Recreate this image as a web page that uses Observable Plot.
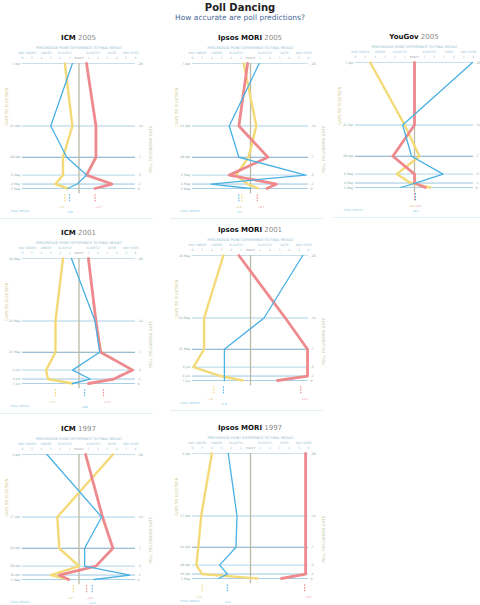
<!DOCTYPE html>
<html><head><meta charset="utf-8">
<script src="https://cdn.jsdelivr.net/npm/d3@7"></script>
<script src="https://cdn.jsdelivr.net/npm/@observablehq/plot@0.6"></script>
<style>
body{margin:0;background:#fff;font-family:"DejaVu Sans",sans-serif;}
#root{position:relative;width:480px;height:605px;overflow:hidden;background:#fff;}
.h1{position:absolute;left:0;width:480px;text-align:center;top:2px;font-size:10px;font-weight:bold;color:#222;line-height:11px;}
.h2{position:absolute;left:0;width:480px;text-align:center;top:13px;font-size:7.5px;color:#4a6a9a;line-height:9px;}
.pt{position:absolute;width:160px;text-align:center;font-size:7px;line-height:8px;color:#8a8a8a;}
.pt b{color:#111;}
.sep{position:absolute;height:1px;background:#e2f0f8;}
</style></head><body><div id="root">
<div class="h1">Poll Dancing</div>
<div class="h2">How accurate are poll predictions?</div>
</div>
<script>
// Days before election for each poll row
const days = [28, 14, 7, 3, 1, 0];
const rightLabels = ["-28", "-14", "-7", "-3", "-1", "0"];
const dateLabels2005 = ["7 Apr", "21 Apr", "28 Apr", "2 May", "4 May", "5 May"];
const dateLabels2001 = ["10 May", "24 May", "31 May", "4 Jun", "6 Jun", "7 Jun"];
const dateLabels1997 = ["3 Apr", "17 Apr", "24 Apr", "28 Apr", "30 Apr", "1 May"];

const pollsters = ["ICM", "Ipsos MORI", "YouGov", "ICM", "Ipsos MORI", "ICM", "Ipsos MORI"];
const years = ["2005", "2005", "2005", "2001", "2001", "1997", "1997"];

// Error vs final result (percentage points), one array per panel, rows follow `days`
const conErr = [
  [-0.7, -3.0, -1.3, 0.8, -0.2, -1.2],
  [0.9, -2.2, -1.2, 5.7, -4.1, 0.0],
  [5.9, -1.2, -0.3, 2.9, 0.1, -1.4],
  [-0.8, 1.7, 2.2, -0.7, 1.2, -0.7],
  [5.4, 1.4, -2.7, -2.7, -2.7, -2.7],
  [-3.4, 2.4, 0.6, 0.6, 5.4, 1.6],
  [-2.3, -1.4, -1.5, -3.2, -2.4, -3.3]
];
const labErr = [
  [0.8, 1.8, 1.8, 0.8, 3.5, 1.7],
  [-0.3, -1.2, 1.8, -2.2, 2.7, 1.7],
  [0.0, 0.0, -2.2, 0.0, 0.0, 1.1],
  [1.0, 1.8, 2.3, 5.7, 3.7, 1.0],
  [-1.2, 3.6, 5.9, 5.9, 5.9, 2.8],
  [0.7, 2.5, 3.6, 1.8, -2.1, -1.1],
  [5.7, 5.7, 5.7, 5.7, 5.7, 3.2]
];
const ldErr = [
  [-1.5, -0.7, -1.7, -1.7, -2.5, -1.2],
  [-0.7, 0.6, -0.2, -1.5, -0.3, 0.8],
  [-4.5, -1.0, 0.5, -1.8, -0.4, 1.6],
  [-1.7, -2.5, -2.5, -3.5, -3.3, -0.7],
  [-2.8, -4.8, -4.8, -5.9, -3.1, -0.8],
  [3.6, -2.3, -2.1, 0.0, -3.0, -1.1],
  [-4.0, -5.1, -5.4, -5.6, -5.0, 0.7]
];
// Average error markers shown below each panel
const conFinal = [-1.0, -1.2, 0.1, 0.6, -2.8, 1.4, -2.4];
const labFinal = [1.7, 0.7, 0.0, 2.6, 5.2, 0.8, 5.6];
const ldFinal = [-1.5, -0.9, 0.1, -2.5, -3.8, -0.6, -5.0];

const tickValues = [-6, -5, -4, -3, -2, -1, 1, 2, 3, 4, 5, 6];
const bandLabels = ["WAY UNDER", "UNDER", "SLIGHTLY", "SLIGHTLY", "OVER", "WAY OVER"];
const bandCenters = [-5.5, -3.5, -1.5, 1.5, 3.5, 5.5];

// layout
const xStart = [22, 192, 355, 22, 192, 22, 192];
const xEnd = [135, 308, 473, 135, 308, 135, 308];
const rowTop = [63, 63, 62, 258, 255, 454, 453];
const gridColors = ["#c5dbe7", "#9fcbe3", "#6e9dbd", "#a8d1e7", "#8ec1de", "#9fcbe3"];
const RED = "#ee8a8d", BLUE = "#49b1e4", YEL = "#f4da77";

const root = document.getElementById("root");
const fmt = d3.format("+.1f");

pollsters.forEach((name, i) => {
  const ml = 24, mr = 26, mt = 32, mb = 36, ph = 125;
  const w = xEnd[i] - xStart[i] + ml + mr;
  const h = mt + ph + mb;
  const dl = years[i] === "2005" ? dateLabels2005 : years[i] === "2001" ? dateLabels2001 : dateLabels1997;
  const rows = days.map((d, k) => ({day: d, con: conErr[i][k], lab: labErr[i][k], ld: ldErr[i][k], left: dl[k], right: rightLabels[k], k}));
  const small = {fontSize: 3, fill: "#9bbfd4"};
  const lastCol = xEnd[i] > 400;
  const svg = Plot.plot({
    width: w, height: h,
    marginLeft: ml, marginRight: mr, marginTop: mt, marginBottom: mb,
    x: {domain: [-6, 6], axis: null},
    y: {domain: [0, 28], axis: null},
    style: {fontFamily: "DejaVu Sans, sans-serif", background: "transparent", overflow: "visible"},
    marks: [
      Plot.ruleY(rows, {y: "day", stroke: d => gridColors[d.k], strokeWidth: 0.9}),
      Plot.ruleX([0], {y1: 28, y2: -1.2, stroke: "#bdb8a6", strokeWidth: 1.3}),
      Plot.text(tickValues, {x: d => d, frameAnchor: "top", dy: -6.3, text: d => String(Math.abs(d)), ...small}),
      Plot.text(["EXACT"], {x: 0, frameAnchor: "top", dy: -6.3, text: d => d, fontSize: 2.8, fill: "#a0a0a0"}),
      Plot.text(bandLabels, {x: (d, j) => bandCenters[j], frameAnchor: "top", dy: -11.3, text: d => d, ...small}),
      Plot.text(["PERCENTAGE POINT DIFFERENCE TO FINAL RESULT"], {frameAnchor: "top", dy: -17.3, text: d => d, fontSize: 3.4, fill: "#8fb8cf"}),
      Plot.text(rows, {y: "day", frameAnchor: "left", dx: -2, textAnchor: "end", text: "left", fontSize: 3.2, fill: "#8aa"}),
      Plot.text(rows, {y: "day", frameAnchor: "right", dx: 2, textAnchor: "start", text: "right", fontSize: 3.2, fill: "#8aa"}),
      Plot.text(["DAYS TO ELECTION"], {frameAnchor: "left", dx: -16, rotate: -90, text: d => d, fontSize: 4, fill: "#cfc98a"}),
      lastCol ? null : Plot.text(["POLL FIELDWORK DATE"], {frameAnchor: "right", dx: 15, rotate: -90, text: d => d, fontSize: 4, fill: "#b5c8a0"}),
      Plot.line(rows, {x: "ld", y: "day", stroke: YEL, strokeWidth: 2.4, strokeLinejoin: "round"}),
      Plot.line(rows, {x: "lab", y: "day", stroke: RED, strokeWidth: 2.8, strokeLinejoin: "round"}),
      Plot.line(rows, {x: "con", y: "day", stroke: BLUE, strokeWidth: 1.3, strokeLinejoin: "round"}),
      Plot.ruleX([ldFinal[i]], {x: d => d, y1: -1.4, y2: -3.2, stroke: YEL, strokeWidth: 1.2, strokeDasharray: "1.6 1.1"}),
      Plot.ruleX([labFinal[i]], {x: d => d, y1: -1.4, y2: -3.2, stroke: RED, strokeWidth: 1.2, strokeDasharray: "1.6 1.1"}),
      Plot.ruleX([conFinal[i]], {x: d => d, y1: -1.4, y2: -3.2, stroke: BLUE, strokeWidth: 1.0, strokeDasharray: "1.6 1.1"}),
      Plot.text([ldFinal[i]], {x: d => d, y: -4.2, dx: -0.5, textAnchor: "end", text: d => fmt(d), fontSize: 2.6, fill: "#d8c060"}),
      Plot.text([labFinal[i]], {x: d => d, y: -4.2, dx: 0.5, textAnchor: "start", text: d => fmt(d), fontSize: 2.6, fill: RED}),
      Plot.text([conFinal[i]], {x: d => d, y: -5.2, text: d => fmt(d), fontSize: 2.6, fill: BLUE}),
      Plot.text(["FINAL RESULT"], {frameAnchor: "bottom-left", dx: -12, dy: 23.6, textAnchor: "start", text: d => d, fontSize: 2.8, fill: "#8ccbe8"})
    ]
  });
  svg.style.position = "absolute";
  svg.style.left = (xStart[i] - ml) + "px";
  svg.style.top = (rowTop[i] - mt) + "px";
  root.appendChild(svg);

  const cx = (xStart[i] + xEnd[i]) / 2;
  const t = document.createElement("div");
  t.className = "pt";
  t.style.left = (cx - 80) + "px";
  t.style.top = (rowTop[i] - 29) + "px";
  t.innerHTML = "<b>" + name + "</b> " + years[i];
  root.appendChild(t);

  const s = document.createElement("div");
  s.className = "sep";
  s.style.left = (xStart[i] - 22) + "px";
  s.style.width = "153px";
  s.style.top = (rowTop[i] + ph + 30) + "px";
  root.appendChild(s);
});
</script>
</body></html>
